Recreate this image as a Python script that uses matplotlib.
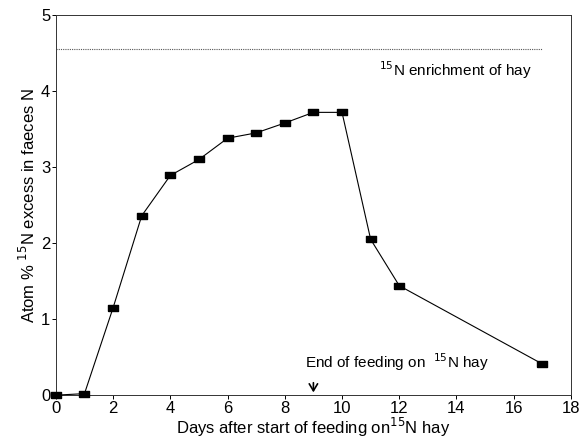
import matplotlib.pyplot as plt

# Datos
days = [0, 1, 2, 3, 4, 5, 6, 7, 8, 9, 10, 11, 12, 17]
excess = [0.0, 0.02, 1.15, 2.36, 2.89, 3.10, 3.38, 3.45, 3.58, 3.72, 3.72, 2.05, 1.44, 0.41]
hay_level = 4.55
hay_x = [0, 17]

plt.rcParams['font.family'] = ['Liberation Sans', 'DejaVu Sans']

fig = plt.figure(figsize=(5.82, 4.43), dpi=100)
ax = fig.add_axes([0.096, 0.108, 0.885, 0.858])

# marcador rectangular (más ancho que alto)
rect = [(-1.4, -1), (1.4, -1), (1.4, 1), (-1.4, 1), (-1.4, -1)]
ax.plot(days, excess, color='black', lw=0.8, marker=rect, markersize=6.5,
        markerfacecolor='black', markeredgecolor='black', clip_on=False, zorder=3)
ax.plot(hay_x, [hay_level, hay_level], color='#555555', lw=0.8, ls=(0, (1, 1)))

ax.text(11.3, 4.2, r'$^{15}$N enrichment of hay', fontsize=11)
ax.text(8.7, 0.36, r'End of feeding on  $^{15}$N hay', fontsize=11)
ax.annotate('', xy=(9, 0.0), xytext=(9, 0.2),
            arrowprops=dict(arrowstyle='->,head_length=0.5,head_width=0.3',
                            color='black', lw=1.2))

ax.set_xlim(0, 18)
ax.set_ylim(0, 5)
ax.set_xticks(range(0, 19, 2))
ax.set_yticks(range(0, 6))
ax.tick_params(labelsize=12, length=3, width=0.7, pad=1)
for s in ax.spines.values():
    s.set_linewidth(0.7)
    s.set_color('#333333')

ax.set_xlabel(r'Days after start of feeding on$^{15}$N hay', fontsize=12, labelpad=0)
ax.set_ylabel(r'Atom % $^{15}$N excess in faeces N', fontsize=12, labelpad=2)

fig.savefig('out.png', dpi=100)
